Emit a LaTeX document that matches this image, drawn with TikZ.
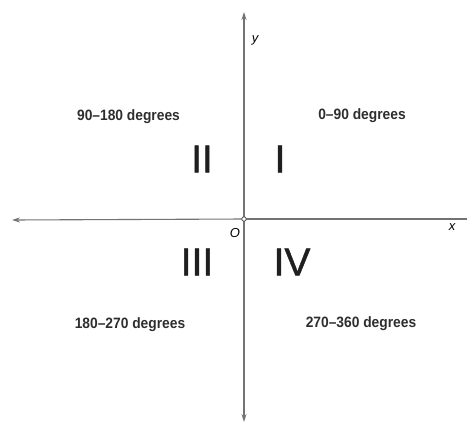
\documentclass[tikz,border=0pt]{standalone}
\usepackage{fontspec}
\setmainfont{Liberation Sans}
\newfontfamily\rangefont[FakeStretch=0.92]{Liberation Sans Bold}
\newfontfamily\quadfont[FakeBold=1.2]{Liberation Sans}
\usetikzlibrary{arrows.meta}
\begin{document}
\begin{tikzpicture}[x=1pt,y=-1pt,
  axis/.style={draw=black!55,line width=1.1pt,-{Stealth[length=8pt,width=5pt]}},
  rangelbl/.style={font=\rangefont\fontsize{15}{16}\selectfont,text=black!82,inner sep=0pt},
  quad/.style={font=\quadfont\fontsize{39}{40}\selectfont,text=black!88,inner sep=0pt},
  axlbl/.style={font=\itshape\fontsize{13}{14}\selectfont,inner sep=0pt}]
\useasboundingbox (0,0) rectangle (468,426);
\coordinate (o) at (244,219);
\coordinate (top) at (244,12);
\coordinate (bot) at (244,422);
\coordinate (left) at (12,220);
\coordinate (right) at (467,219);
\draw[axis] (o) -- (top);
\draw[axis] (o) -- (bot);
\draw[axis] (o) -- (left);
\draw[draw=black!55,line width=1.1pt] (o) -- (right);
\node[draw=black!70,fill=white,circle,inner sep=0pt,minimum size=4.5pt,line width=0.8pt] (origin) at (o) {};
\node[axlbl] (ylbl) at (255,40) {y};
\node[axlbl] (xlbl) at (452,227) {x};
\node[axlbl] (olbl) at (235,233) {O};
\node[rangelbl] (q2r) at (128.5,117) {90–180 degrees};
\node[rangelbl] (q1r) at (362,116) {0–90 degrees};
\node[rangelbl] (q3r) at (130,325) {180–270 degrees};
\node[rangelbl] (q4r) at (361,324) {270–360 degrees};
\node[quad] (q2) at (202,159) {II};
\node[quad] (q1) at (280,159) {I};
\node[quad] (q3) at (197,262) {III};
\node[quad] (q4) at (292,262) {IV};
\end{tikzpicture}
\end{document}
